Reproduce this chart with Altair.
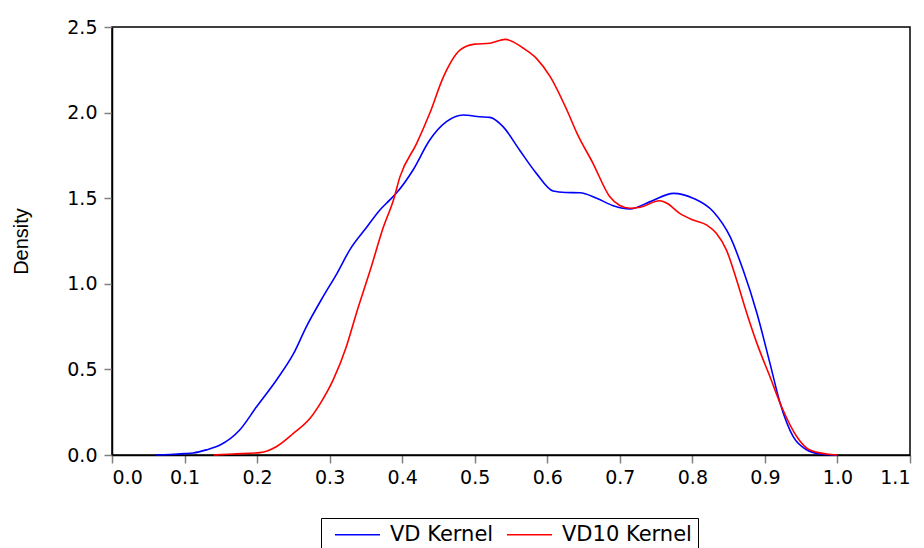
import altair as alt
import pandas as pd

series_names = ["VD Kernel", "VD10 Kernel"]
series_colors = ["#0000FF", "#FF0000"]

vd_x = [0.06, 0.08, 0.10, 0.112, 0.13, 0.149, 0.176, 0.199, 0.227, 0.25, 0.268, 0.291, 0.31, 0.328,
        0.351, 0.369, 0.383, 0.392, 0.415, 0.438, 0.461, 0.484, 0.507, 0.521, 0.539, 0.562, 0.585,
        0.608, 0.625, 0.645, 0.668, 0.691, 0.714, 0.742, 0.774, 0.801, 0.829, 0.852, 0.87, 0.889,
        0.907, 0.921, 0.939, 0.958, 0.976, 0.99, 1.0]
vd_y = [0, 0.003, 0.008, 0.012, 0.03, 0.058, 0.146, 0.28, 0.44, 0.59, 0.75, 0.925, 1.06, 1.2,
        1.33, 1.43, 1.49, 1.53, 1.665, 1.84, 1.947, 1.986, 1.976, 1.972, 1.918, 1.78, 1.645,
        1.542, 1.533, 1.532, 1.5, 1.456, 1.437, 1.48, 1.528, 1.50, 1.421, 1.275, 1.08, 0.828,
        0.535, 0.302, 0.107, 0.029, 0.006, 0.001, 0]

vd10_x = [0.14, 0.167, 0.204, 0.227, 0.25, 0.273, 0.287, 0.305, 0.323, 0.337, 0.356, 0.374, 0.388,
          0.397, 0.42, 0.438, 0.457, 0.48, 0.5, 0.521, 0.542, 0.567, 0.585, 0.604, 0.627, 0.641,
          0.663, 0.686, 0.70, 0.714, 0.728, 0.755, 0.765, 0.783, 0.801, 0.82, 0.833, 0.847, 0.861,
          0.875, 0.889, 0.907, 0.923, 0.944, 0.962, 0.985, 1.0]
vd10_y = [0, 0.006, 0.014, 0.05, 0.126, 0.214, 0.30, 0.44, 0.633, 0.83, 1.08, 1.33, 1.49,
          1.626, 1.82, 1.996, 2.21, 2.366, 2.40, 2.405, 2.428, 2.376, 2.317, 2.21, 2.015, 1.879,
          1.704, 1.51, 1.457, 1.441, 1.447, 1.485, 1.47, 1.41, 1.373, 1.343, 1.295, 1.197, 1.022,
          0.828, 0.652, 0.457, 0.282, 0.107, 0.029, 0.006, 0]

x_ticks = [0.0, 0.1, 0.2, 0.3, 0.4, 0.5, 0.6, 0.7, 0.8, 0.9, 1.0, 1.1]
y_ticks = [0.0, 0.5, 1.0, 1.5, 2.0, 2.5]

rows = []
for i, (xs, ys) in enumerate([(vd_x, vd_y), (vd10_x, vd10_y)]):
    for j, (a, b) in enumerate(zip(xs, ys)):
        rows.append({"series": series_names[i], "x": a, "y": b, "order": j})
df = pd.DataFrame(rows)

chart = alt.Chart(df).mark_line(strokeWidth=1.6, interpolate="monotone").encode(
    x=alt.X("x:Q", scale=alt.Scale(domain=[0, 1.1], nice=False, zero=False),
            axis=alt.Axis(values=x_ticks, format=".1f", title=None, labelPadding=5)),
    y=alt.Y("y:Q", scale=alt.Scale(domain=[0, 2.5], nice=False),
            axis=alt.Axis(values=y_ticks, format=".1f", title="Density", labelPadding=7,
                          titleX=-85, titleY=214, titleAngle=270, titleAlign="center",
                          titleBaseline="alphabetic", titleFont="Liberation Sans",
                          titleFontSize=20, titleFontWeight="normal", titleColor="black")),
    color=alt.Color("series:N", scale=alt.Scale(domain=series_names, range=series_colors),
                    legend=alt.Legend(title=None, orient="none", legendX=209, legendY=491,
                                      direction="horizontal", strokeColor="black",
                                      fillColor="white", padding=6, cornerRadius=0,
                                      symbolType="M-2.5,0H2.5", symbolSize=324,
                                      symbolStrokeWidth=1.5, symbolOffset=20, labelOffset=22,
                                      columnPadding=5, labelFont="DejaVu Sans", labelFontSize=21,
                                      labelColor="black")),
    order="order:Q",
    detail="series:N",
).properties(
    width=798, height=428,
    autosize=alt.AutoSizeParams(type="none"),
    padding={"left": 104, "top": 19, "right": 6, "bottom": 93},
).configure_view(
    stroke="black", strokeWidth=1.5
).configure_axis(
    grid=False, domainColor="black", domainWidth=1.5, tickColor="#808080", tickWidth=1.5,
    tickSize=8, labelFont="DejaVu Sans", labelFontSize=19, labelColor="black"
)

chart.save("out.html", embed_options={"renderer": "svg", "actions": False})
